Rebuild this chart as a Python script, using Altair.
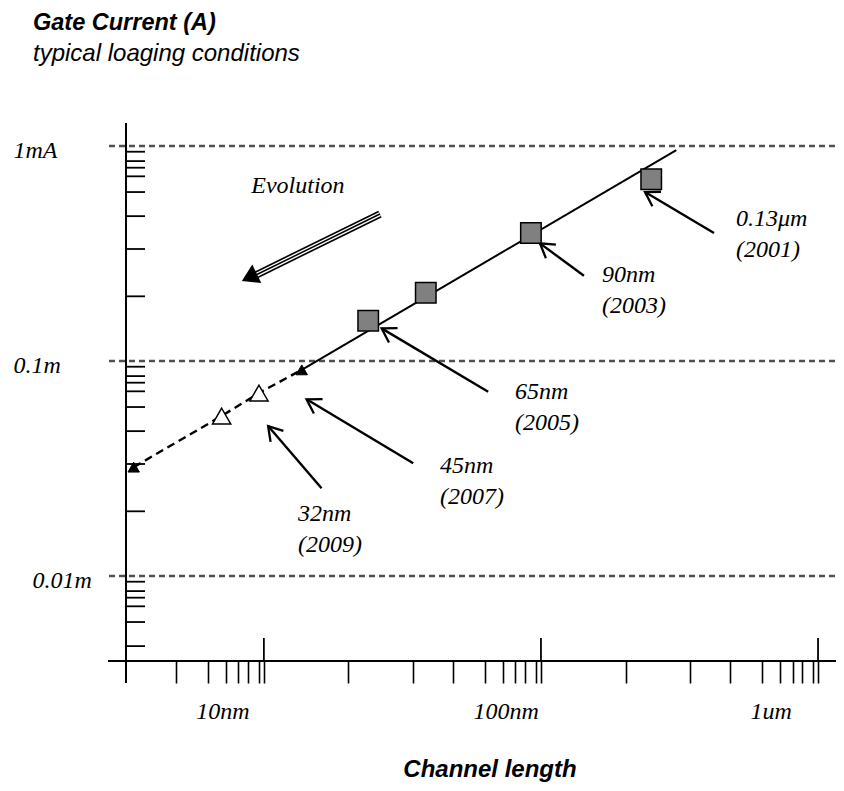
import math
import altair as alt
import pandas as pd

# ---------------- values ----------------
# technology nodes drawn as grey squares (channel length nm, gate current mA)
node_x = [250, 92, 38.4, 23.8]
node_y = [0.70, 0.394, 0.208, 0.154]
# projected nodes (open triangles)
proj_x = [9.6, 7.04]
proj_y = [0.071, 0.0555]
# end points (small filled triangles)
end_x = [13.7, 3.39]
end_y = [0.091, 0.0321]
# solid trend line
trend_x = [13.7, 308]
trend_y = [0.091, 0.958]
# dashed extrapolation
dash_x = [3.39, 7.04, 9.6, 13.7]
dash_y = [0.0321, 0.0555, 0.071, 0.091]

# annotations
ann_text = ["0.13μm\n(2001)", "90nm\n(2003)", "65nm\n(2005)", "45nm\n(2007)", "32nm\n(2009)"]
ann_tx = [505.8, 166.1, 80.55, 43.19, 13.27]
ann_ty = [0.5203, 0.2857, 0.08157, 0.03693, 0.02209]
arr_x0 = [421.2, 142.9, 64.5, 34.6, 16.15]
arr_y0 = [0.3938, 0.2493, 0.07198, 0.03343, 0.02558]
arr_x1 = [237.4, 99.17, 26.6, 14.26, 10.36]
arr_y1 = [0.6110, 0.3527, 0.1419, 0.06637, 0.04984]

evo_text = ["Evolution"]
evo_tx = [13.27]
evo_ty = [0.6516]
evo_x0 = [26.23]
evo_y0 = [0.4828]
evo_x1 = [9.357]
evo_y1 = [0.2512]
evo_tipx = [8.329]
evo_tipy = [0.2355]

# axes
grid_y = [1, 0.1, 0.01]
y_labels = ["1mA", "0.1m", "0.01m"]
x_major = [10, 100, 1000]
x_labels = ["10nm", "100nm", "1um"]
x_minor_mant = [2.02, 3.44, 4.80, 6.28, 7.31, 8.09, 8.77, 9.59]
y_minor_mant = [2.00, 3.32, 4.72, 6.11, 7.23, 7.93, 8.51, 9.41]
x_tick_min = 4.5
x_domain = [3.18, 1161]
y_domain = [0.004025, 1.28]

# ---------------- layout ----------------
W, H = 710, 538


def px(x):
    return W * (math.log10(x) - math.log10(x_domain[0])) / (math.log10(x_domain[1]) - math.log10(x_domain[0]))


def py(y):
    return H * (math.log10(y_domain[1]) - math.log10(y)) / (math.log10(y_domain[1]) - math.log10(y_domain[0]))


def ang(x0, y0, x1, y1):
    return math.degrees(math.atan2(py(y1) - py(y0), px(x1) - px(x0))) % 360


xscale = alt.Scale(type="log", domain=x_domain, nice=False)
yscale = alt.Scale(type="log", domain=y_domain, nice=False)

x_ticks = sorted(set(
    [m * 10 ** k for k in range(0, 3) for m in x_minor_mant
     if x_tick_min < m * 10 ** k < x_domain[1]] + x_major))
y_ticks = [m * 10.0 ** k for k in (-3, -2, -1) for m in y_minor_mant
           if y_domain[0] < m * 10.0 ** k < y_domain[1]]

x_expr = " : ".join(f"datum.value == {v} ? '{l}'" for v, l in zip(x_major, x_labels)) + " : ''"
y_expr = " : ".join(f"datum.value == {v} ? '{l}'" for v, l in zip(grid_y, y_labels)) + " : ''"

SERIF = "Liberation Serif"
SANS = "Liberation Sans"

x_axis = alt.Axis(
    values=x_ticks, labelExpr=x_expr, grid=False, domain=False,
    ticks=True, tickSize=22, tickWidth=1.6, tickColor="black",
    labelAlign="left", labelOffset=-68, labelBaseline="alphabetic", labelPadding=35,
    labelFont=SERIF, labelFontStyle="italic", labelFontSize=24, labelColor="black",
    labelOverlap=False, labelFlush=False, labelBound=False,
    title="Channel length", titleFont=SANS, titleFontSize=24, titleFontStyle="italic",
    titleFontWeight="bold", titleColor="black", titleX=363.5, titleY=115,
    titleAlign="center", titleBaseline="alphabetic",
)
y_axis = alt.Axis(
    values=grid_y, labelExpr=y_expr, grid=False, domain=False, ticks=False, tickSize=0,
    labelAlign="left", labelBaseline="middle", labelOffset=4,
    labelPadding={"condition": {"test": "datum.value < 0.05", "value": 94}, "value": 113},
    labelFont=SERIF, labelFontStyle="italic", labelFontSize=24, labelColor="black",
    labelOverlap=False, labelFlush=False, labelBound=False, title=None,
)


def X(f):
    return alt.X(f, type="quantitative", scale=xscale, axis=x_axis)


def Y(f):
    return alt.Y(f, type="quantitative", scale=yscale, axis=y_axis)


# ---------------- data frames ----------------
grid_df = pd.DataFrame({"y": grid_y})
ytick_df = pd.DataFrame({"y": y_ticks})
major_df = pd.DataFrame({"x": x_major})
node_df = pd.DataFrame({"x": node_x, "y": node_y})
proj_df = pd.DataFrame({"x": proj_x, "y": proj_y})
end_df = pd.DataFrame({"x": end_x, "y": end_y})
trend_df = pd.DataFrame({"x": trend_x, "y": trend_y})
dash_df = pd.DataFrame({"x": dash_x, "y": dash_y})
arr_df = pd.DataFrame({
    "x0": arr_x0, "y0": arr_y0, "x1": arr_x1, "y1": arr_y1,
    "ang": [ang(a, b, c, d) for a, b, c, d in zip(arr_x0, arr_y0, arr_x1, arr_y1)],
})
ann_df = pd.DataFrame({"x": ann_tx, "y": ann_ty, "t": ann_text})
evo_df = pd.DataFrame({
    "x0": evo_x0, "y0": evo_y0, "x1": evo_x1, "y1": evo_y1,
    "tx": evo_tipx, "ty": evo_tipy,
    "ang": [ang(evo_x0[0], evo_y0[0], evo_tipx[0], evo_tipy[0])],
})
evo_t_df = pd.DataFrame({"x": evo_tx, "y": evo_ty, "t": evo_text})

# ---------------- layers ----------------
grid = alt.Chart(grid_df).mark_rule(color="#505050", strokeWidth=2.4, strokeDash=[6, 4]).encode(
    y=Y("y"), x=alt.value(-17), x2=alt.value(W))

yticks = alt.Chart(ytick_df).mark_rule(color="black", strokeWidth=1.8).encode(
    y=Y("y"), x=alt.value(0), x2=alt.value(19))

xline = alt.Chart(grid_df).mark_rule(color="black", strokeWidth=2).encode(
    y=alt.value(H), x=alt.value(-18), x2=alt.value(W))
yline = alt.Chart(grid_df).mark_rule(color="black", strokeWidth=2).encode(
    x=alt.value(0), y=alt.value(0), y2=alt.value(H + 22))
majors = alt.Chart(major_df).mark_rule(color="black", strokeWidth=1.8).encode(
    x=X("x"), y=alt.value(H - 23), y2=alt.value(H))

dashed = alt.Chart(dash_df).mark_line(color="black", strokeWidth=2.4, strokeDash=[8, 5]).encode(
    x=X("x"), y=Y("y"), order=alt.Order("x:Q"))
trend = alt.Chart(trend_df).mark_line(color="black", strokeWidth=2).encode(
    x=X("x"), y=Y("y"), order=alt.Order("x:Q"))

shafts = alt.Chart(arr_df).mark_rule(color="black", strokeWidth=2.4).encode(
    x=X("x0"), y=Y("y0"), x2=alt.X2("x1"), y2=alt.Y2("y1"))
heads = alt.Chart(arr_df).mark_point(
    shape="M -1 -0.62 L 0 0 L -1 0.62", filled=False, size=740, strokeWidth=2.3,
    color="black", opacity=1).encode(
    x=X("x1"), y=Y("y1"), angle=alt.Angle("ang:Q", scale=None))

evo_outer = alt.Chart(evo_df).mark_rule(color="black", strokeWidth=7.5).encode(
    x=X("x0"), y=Y("y0"), x2=alt.X2("x1"), y2=alt.Y2("y1"))
evo_gap = alt.Chart(evo_df).mark_rule(color="white", strokeWidth=4.2).encode(
    x=X("x0"), y=Y("y0"), x2=alt.X2("x1"), y2=alt.Y2("y1"))
evo_mid = alt.Chart(evo_df).mark_rule(color="black", strokeWidth=1.5).encode(
    x=X("x0"), y=Y("y0"), x2=alt.X2("x1"), y2=alt.Y2("y1"))
evo_head = alt.Chart(evo_df).mark_point(
    shape="M 0 0 L -1 -0.62 L -1 0.62 Z", filled=True, size=1100, color="black",
    opacity=1).encode(x=X("tx"), y=Y("ty"), angle=alt.Angle("ang:Q", scale=None))

squares = alt.Chart(node_df).mark_point(
    shape="square", filled=True, fill="#808080", stroke="black", strokeWidth=1.5,
    size=420, opacity=1).encode(x=X("x"), y=Y("y"))
opentri = alt.Chart(proj_df).mark_point(
    shape="triangle-up", filled=True, fill="white", stroke="black", strokeWidth=1.5,
    size=330, opacity=1).encode(x=X("x"), y=Y("y"))
filltri = alt.Chart(end_df).mark_point(
    shape="triangle-up", filled=True, fill="black", stroke="black", strokeWidth=1,
    size=130, opacity=1).encode(x=X("x"), y=Y("y"))

ann = alt.Chart(ann_df).mark_text(
    align="left", baseline="top", lineBreak="\n", lineHeight=31, font=SERIF,
    fontStyle="italic", fontSize=24, color="black").encode(x=X("x"), y=Y("y"), text="t:N")
evo_label = alt.Chart(evo_t_df).mark_text(
    align="center", baseline="middle", font=SERIF, fontStyle="italic", fontSize=24,
    color="black").encode(x=X("x"), y=Y("y"), text="t:N")

chart = alt.layer(
    grid, yticks, xline, yline, majors, dashed, trend, shafts, heads,
    evo_outer, evo_gap, evo_mid, evo_head, squares, opentri, filltri, ann, evo_label,
).properties(
    width=W, height=H,
    background="white",
    autosize=alt.AutoSizeParams(type="none"),
    padding={"left": 118, "top": 115, "right": 0, "bottom": 122},
    title=alt.TitleParams(
        text="Gate Current (A)", subtitle="typical loaging conditions",
        anchor="start", frame="group", dx=-93, offset=56,
        font=SANS, fontSize=23.5, fontStyle="italic", fontWeight="bold", color="black",
        subtitleFont=SANS, subtitleFontSize=24, subtitleFontStyle="italic",
        subtitleColor="black", subtitlePadding=8,
    ),
).configure_view(stroke=None)

chart.save("out.html", embed_options={"renderer": "svg", "actions": False})
